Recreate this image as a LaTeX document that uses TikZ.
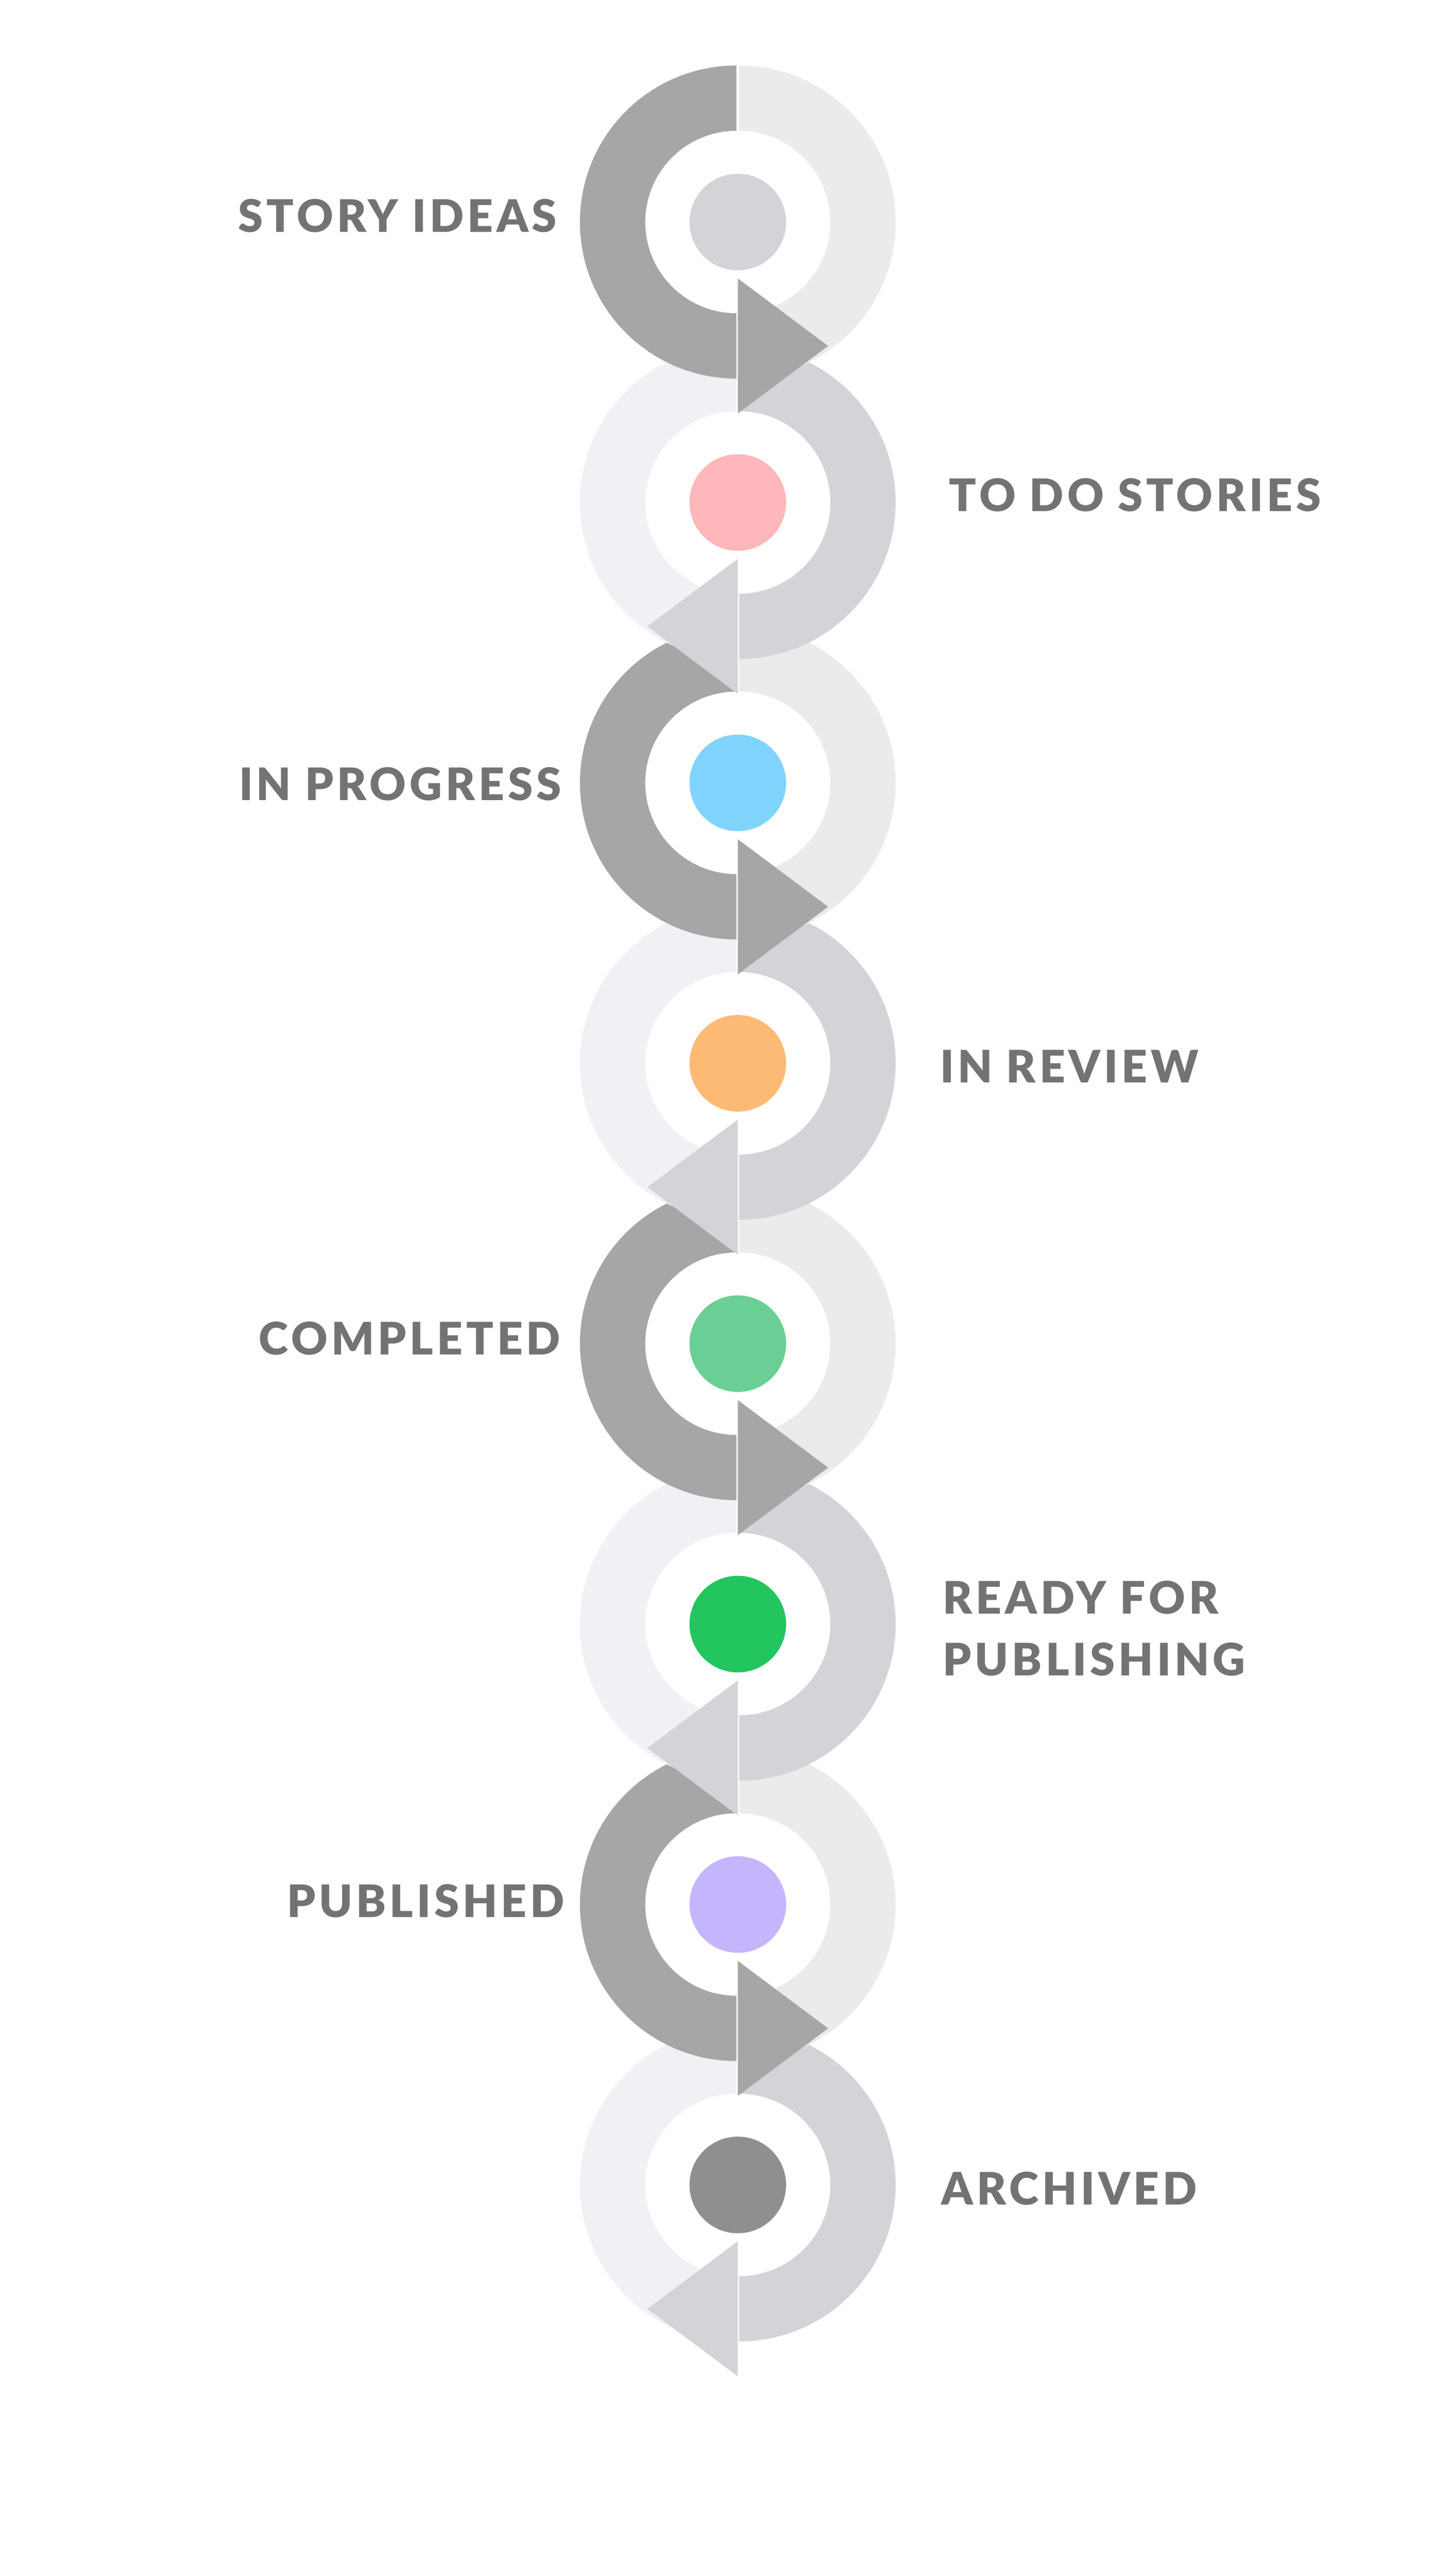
\documentclass[tikz,border=0pt]{standalone}
\usepackage{fontspec}
\newfontfamily\stagefont[LetterSpace=8]{Lato Black}
\definecolor{ringdark}{HTML}{A6A6A6}
\definecolor{ringlight}{HTML}{EBEBEB}
\definecolor{ringpale}{HTML}{F0F0F5}
\definecolor{ringmid}{HTML}{D4D4D8}
\definecolor{stagetext}{HTML}{737373}
\definecolor{dotidea}{HTML}{D4D4D8}
\definecolor{dottodo}{HTML}{FEB7BA}
\definecolor{dotprog}{HTML}{80D3FC}
\definecolor{dotreview}{HTML}{FDBA74}
\definecolor{dotdone}{HTML}{6ACF95}
\definecolor{dotready}{HTML}{22C55E}
\definecolor{dotpub}{HTML}{C4B5FD}
\definecolor{dotarch}{HTML}{8F8F8F}
\begin{document}
\begin{tikzpicture}[stage/.style={font=\stagefont\fontsize{28.5}{39.3}\selectfont,text=stagetext,inner sep=0pt},
  dot/.style={circle,inner sep=0pt,minimum size=2.16cm}]
\useasboundingbox (0,0) rectangle (32.4,-57.6);
\foreach \k/\lc/\rc/\tc/\d/\dc in {8/ringpale/ringmid/ringmid/-1/dotarch,7/ringdark/ringlight/ringdark/1/dotpub,
  6/ringpale/ringmid/ringmid/-1/dotready,5/ringdark/ringlight/ringdark/1/dotdone,
  4/ringpale/ringmid/ringmid/-1/dotreview,3/ringdark/ringlight/ringdark/1/dotprog,
  2/ringpale/ringmid/ringmid/-1/dottodo,1/ringdark/ringlight/ringdark/1/dotidea}{
	\pgfmathsetmacro\y{-4.965-6.27*(\k-1)}
	\coordinate (c\k) at (16.5,\y);
	\begin{scope}[shift={(c\k)}]
	\fill[\lc] (-0.03,3.5) arc[start angle=90,end angle=270,radius=3.5] -- ++(0,1.46)
		arc[start angle=270,end angle=90,radius=2.04] -- cycle;
	\fill[\rc] (0.03,3.5) arc[start angle=90,end angle=-90,radius=3.5] -- ++(0,1.46)
		arc[start angle=-90,end angle=90,radius=2.04] -- cycle;
	\fill[\tc] (0,-1.26) -- ++(\d*2.02,-1.51) -- ++(-\d*2.02,-1.51) -- cycle;
	\end{scope}
	\node[dot,fill=\dc] (dot\k) at (c\k) {};
}
\node[stage,anchor=east] (idea) at (12.46,-4.82) {STORY IDEAS};
\node[stage,anchor=west] (todo) at (21.22,-11.07) {TO DO STORIES};
\node[stage,anchor=east] (prog) at (12.56,-17.53) {IN PROGRESS};
\node[stage,anchor=west] (review) at (21.02,-23.84) {IN REVIEW};
\node[stage,anchor=east] (done) at (12.54,-29.93) {COMPLETED};
\node[stage,anchor=west,align=left] (ready) at (21.08,-36.41) {READY FOR\\PUBLISHING};
\node[stage,anchor=east] (pub) at (12.63,-42.51) {PUBLISHED};
\node[stage,anchor=west] (arch) at (21.05,-48.93) {ARCHIVED};
\end{tikzpicture}
\end{document}
